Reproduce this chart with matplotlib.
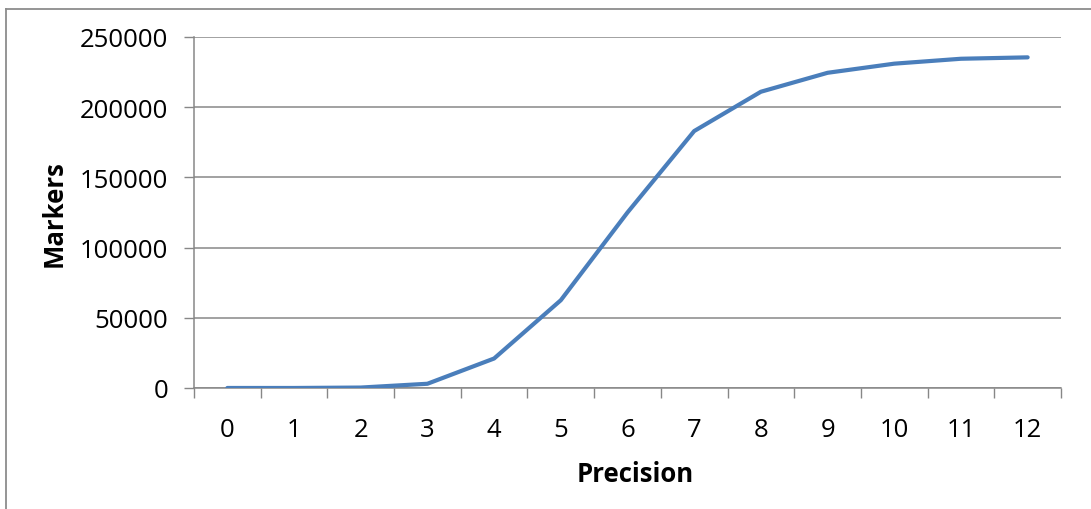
import matplotlib
matplotlib.use("Agg")
import matplotlib.pyplot as plt
from matplotlib.lines import Line2D
from matplotlib.ticker import FixedLocator, NullFormatter

plt.rcParams['font.family'] = ['Open Sans', 'DejaVu Sans']

precision = [0, 1, 2, 3, 4, 5, 6, 7, 8, 9, 10, 11, 12]
markers = [0, 0, 300, 3000, 21000, 62500, 125000, 183000, 211000,
           224500, 231000, 234500, 235500]
y_ticks = [0, 50000, 100000, 150000, 200000, 250000]

grid_color = '#878787'
line_color = '#4A7EBB'
font_size = 18.5

fig = plt.figure(figsize=(10.91, 5.10), dpi=100)
ax = fig.add_axes([0.1778, 0.2373, 0.7947, 0.6882])

ax.plot(precision, markers, color=line_color, linewidth=3.0,
        solid_capstyle='round', solid_joinstyle='round', zorder=3)

ax.set_xlim(-0.5, len(precision) - 0.5)
ax.set_ylim(0, 250000)

# category axis: tick marks between categories, labels at the centres
ax.xaxis.set_major_locator(FixedLocator([i - 0.5 for i in range(len(precision) + 1)]))
ax.xaxis.set_major_formatter(NullFormatter())
ax.xaxis.set_minor_locator(FixedLocator(precision))
ax.set_xticklabels([str(p) for p in precision], minor=True)
ax.tick_params(axis='x', which='major', length=7.5, width=1, color=grid_color,
               direction='out')
ax.tick_params(axis='x', which='minor', length=0, pad=21, labelsize=font_size)

ax.set_yticks(y_ticks)
ax.set_yticklabels([str(v) for v in y_ticks])
ax.tick_params(axis='y', length=7.5, width=1, color=grid_color, pad=11,
               labelsize=font_size)

ax.yaxis.grid(True, color=grid_color, linewidth=1.1)
ax.set_axisbelow(True)

for side in ['top', 'right']:
    ax.spines[side].set_visible(False)
for side in ['left', 'bottom']:
    ax.spines[side].set_color(grid_color)
    ax.spines[side].set_linewidth(1.1)

ax.set_xlabel('Precision', fontsize=font_size, fontweight='bold')
ax.xaxis.set_label_coords(0.509, -0.206)
ax.set_ylabel('Markers', fontsize=font_size, fontweight='bold', labelpad=9)

# outer frame of the chart area
fig.add_artist(Line2D([6 / 1091, 6 / 1091], [0, 1 - 10 / 510],
                      transform=fig.transFigure, color='#8c8c8c', linewidth=1.3))
fig.add_artist(Line2D([6 / 1091, 1], [1 - 10 / 510, 1 - 10 / 510],
                      transform=fig.transFigure, color='#8c8c8c', linewidth=1.3))

fig.savefig('out.png', dpi=100)
